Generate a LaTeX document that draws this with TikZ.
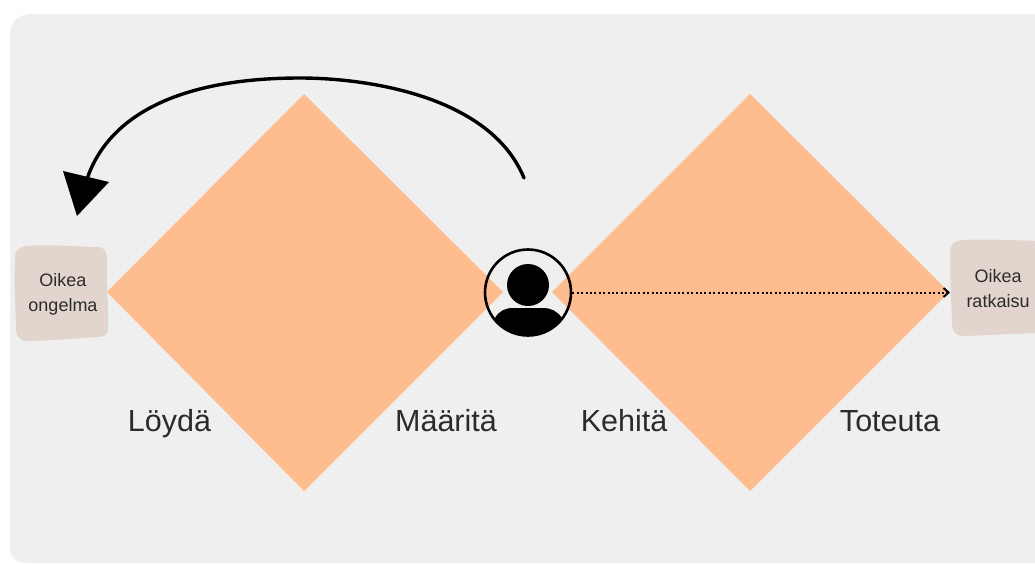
\documentclass[tikz,border=0pt]{standalone}
\usepackage{fontspec}
\setmainfont{Liberation Sans}
\usetikzlibrary{arrows.meta}
\definecolor{bgc}{HTML}{EFEFEF}
\definecolor{dia}{HTML}{FFBC8F}
\definecolor{boxc}{HTML}{E2D5CE}
\definecolor{txt}{HTML}{2B2B2B}
\tikzset{
  x=1pt,y=-1pt,
  small/.style={font=\fontsize{18}{25}\selectfont,text=txt,align=center,inner sep=0pt},
  big/.style={font=\fontsize{30.5}{34}\selectfont,text=txt,inner sep=0pt,anchor=base},
  diamondfill/.style={fill=dia,draw=none},
  boxfill/.style={fill=boxc,draw=none}
}
\begin{document}
\begin{tikzpicture}
\useasboundingbox (0,0) rectangle (1035,563);
\fill[white] (0,0) rectangle (1035,563);
\fill[bgc] (1035,14) -- (32,14) .. controls (18,14) and (10,22) .. (10,36) -- (10,545) .. controls (10,555) and (14,563) .. (26,563) -- (1035,563) -- cycle;
% diamonds
\fill[diamondfill] (107,292) -- (304,94) -- (503,292) -- (304,491) -- cycle;
\fill[diamondfill] (552,292) -- (750,94) -- (949,292) -- (750,491) -- cycle;
% boxes
\fill[boxfill] (27,246) .. controls (50,244) and (80,247) .. (97,247) .. controls (105,247) and (107,252) .. (107,260)
  .. controls (106,285) and (109,310) .. (108,328) .. controls (108,336) and (103,337) .. (96,337)
  .. controls (70,339) and (45,341) .. (27,341) .. controls (18,341) and (16,335) .. (16,326)
  .. controls (15,300) and (14,280) .. (15,258) .. controls (15,250) and (19,247) .. (27,246) -- cycle;
\fill[boxfill] (962,240) .. controls (985,239) and (1015,240) .. (1035,241) -- (1035,333)
  .. controls (1015,334) and (985,335) .. (965,336) .. controls (955,336) and (952,331) .. (952,322)
  .. controls (951,295) and (950,275) .. (950,252) .. controls (950,244) and (954,241) .. (962,240) -- cycle;
% labels
\node[small] (prob) at (63,294.5) {Oikea\\ongelma};
\node[small] (sol) at (998,288.5) {Oikea\\ratkaisu};
\node[big] (l1) at (169.5,431) {Löydä};
\node[big] (l2) at (446,431) {Määritä};
\node[big] (l3) at (624,431) {Kehitä};
\node[big] (l4) at (890,431) {Toteuta};
% user icon
\coordinate (c) at (528,292.5);
\begin{scope}
\clip (c) circle (43);
\fill[black] (495,336) -- (495,318) .. controls (499,311) and (505,308) .. (513,308) -- (543,308) .. controls (551,308) and (557,311) .. (562,318) -- (562,340) -- (495,340) -- cycle;
\end{scope}
\fill[black] (528,285) circle (21);
\node[circle,draw=black,line width=2.6pt,minimum size=86pt,inner sep=0pt,fill=none] (user) at (c) {};
% helper anchors
\coordinate (arrstart) at (524,178);
\coordinate (arrend) at (86,182);
\coordinate (dotend) at (950,292.5);
% curved arrow
\draw[black,line width=3.4pt,line cap=round] (arrstart) .. controls (490,95) and (365,78) .. (300,78) .. controls (185,78) and (108,112) .. (arrend);
\fill[black] (63,171) -- (109,182) -- (77,216) -- cycle;
% dotted connector
\draw[black,line width=2pt,dash pattern=on 2pt off 2.4pt,-{Straight Barb[length=5pt,width=9pt,line width=2pt]}] (user.east) -- (dotend);
\end{tikzpicture}
\end{document}
